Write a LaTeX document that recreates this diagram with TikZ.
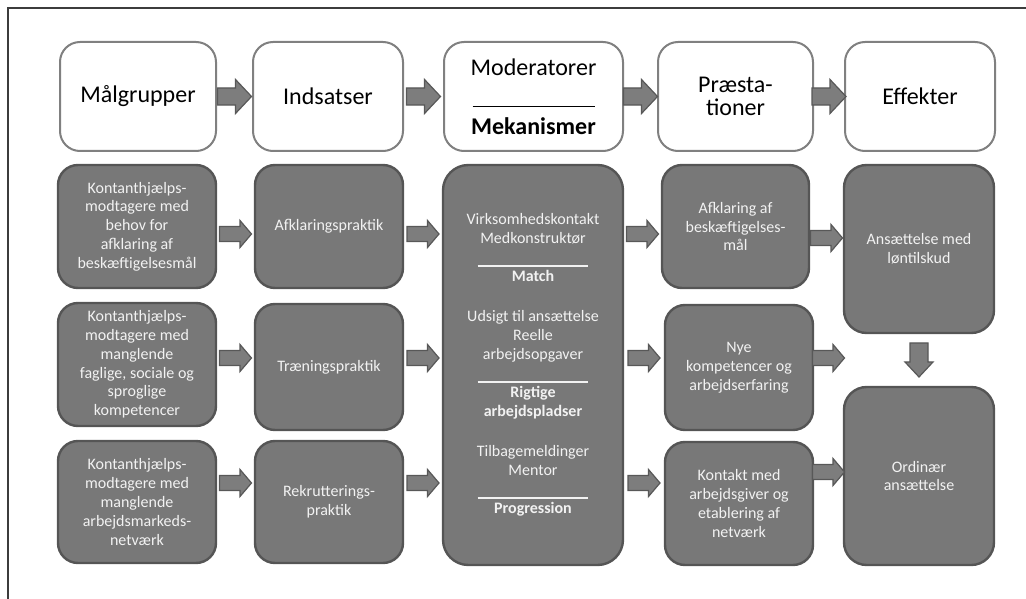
\documentclass[tikz,border=0pt]{standalone}
\usepackage{fontspec}
\setmainfont{Carlito}
\usepackage{tikz}
\usetikzlibrary{calc}

\definecolor{boxfill}{RGB}{120,120,120}
\definecolor{boxline}{RGB}{85,85,85}
\definecolor{boxtext}{RGB}{242,242,242}
\definecolor{headline}{RGB}{128,128,128}
\definecolor{arrowfill}{RGB}{125,125,125}
\definecolor{arrowline}{RGB}{88,88,88}
\definecolor{frameline}{RGB}{60,60,60}

% half shaft, half head, head length, half length, from, to
\newcommand{\blockarr}[6]{%
\coordinate (ba-m) at ($(#5)!0.5!(#6)$);
\coordinate (ba-s) at ($(ba-m)!#4!(#5)$);
\coordinate (ba-t) at ($(ba-m)!#4!(#6)$);
\coordinate (ba-h) at ($(ba-t)!#3!(ba-s)$);
\draw[blockarrow] ($(ba-s)!#1!90:(ba-t)$) -- ($(ba-h)!#1!90:(ba-t)$)
  -- ($(ba-h)!#2!90:(ba-t)$) -- (ba-t) -- ($(ba-h)!#2!-90:(ba-t)$)
  -- ($(ba-h)!#1!-90:(ba-t)$) -- ($(ba-s)!#1!-90:(ba-t)$) -- cycle;
}
\newcommand{\rowarr}[2]{\blockarr{5.6pt}{10.1pt}{8.6pt}{12pt}{#1}{#2}}
\newcommand{\headarr}[2]{\blockarr{6.4pt}{12.75pt}{12pt}{12.75pt}{#1}{#2}}

\begin{document}
\begin{tikzpicture}[%
x=0.75pt,
y=-0.75pt,
head/.style={draw=headline, line width=1.5pt, fill=white, rounded corners=15pt,
  inner sep=0pt, align=center, font=\fontsize{18pt}{22pt}\selectfont},
grey/.style={draw=boxline, line width=1.8pt, fill=boxfill, text=boxtext,
  rounded corners=15pt, inner sep=0pt, align=center,
  font=\fontsize{12pt}{14.1pt}\selectfont},
blockarrow/.style={fill=arrowfill, draw=arrowline, line width=0.9pt}
]

\useasboundingbox (0,0) rectangle (1026,599);
\draw[frameline, line width=1.1pt] (8,599) -- (8,8) -- (1026,8);

\node[head, minimum width=117pt, minimum height=81.75pt] (h1) at (138,96.5) {Målgrupper};
\node[head, minimum width=112.5pt, minimum height=81.75pt] (h2) at (328,96.5) {Indsatser};
\node[head, minimum width=134.25pt, minimum height=81.75pt] (h3) at (533.5,96.5)
  {Moderatorer\\ \rule[-1.5pt]{91.5pt}{0.9pt}\\ \textbf{Mekanismer}};
\node[head, minimum width=116.25pt, minimum height=81.75pt,
  font=\fontsize{18pt}{17.5pt}\selectfont] (h4) at (735.5,96.5) {Præsta-\\tioner};
\node[head, minimum width=112.5pt, minimum height=81.75pt] (h5) at (920,96.5) {Effekter};

\node[grey, minimum width=118.5pt, minimum height=92.25pt] (g1) at (137,226.5)
  {Kontanthjælps-\\modtagere med\\behov for\\afklaring af\\beskæftigelsesmål};
\node[grey, minimum width=118.5pt, minimum height=92.25pt] (g2) at (137,364.5)
  {Kontanthjælps-\\modtagere med\\manglende\\faglige, sociale og\\sproglige\\kompetencer};
\node[grey, minimum width=118.5pt, minimum height=91.5pt] (g3) at (137,502)
  {Kontanthjælps-\\modtagere med\\manglende\\arbejdsmarkeds-\\netværk};

\node[grey, minimum width=111pt, minimum height=92.25pt] (i1) at (329,226.5) {Afklaringspraktik};
\node[grey, minimum width=111pt, minimum height=94.5pt] (i2) at (329,367) {Træningspraktik};
\node[grey, minimum width=111pt, minimum height=91.5pt] (i3) at (329,502) {Rekrutterings-\\praktik};

\node[grey, rounded corners=19pt, minimum width=135pt, minimum height=300pt,
  font=\fontsize{12pt}{14.25pt}\selectfont] (mid) at (533,365)
  {Virksomhedskontakt\\
   Medkonstruktør\\
   \rule[-3pt]{83pt}{1pt}\\
   \textbf{Match}\\[15.75pt]
   Udsigt til ansættelse\\
   Reelle\\
   arbejdsopgaver\\
   \rule[-3pt]{83pt}{1pt}\\
   \textbf{Rigtige}\\
   \textbf{arbejdspladser}\\[15.75pt]
   Tilbagemeldinger\\
   Mentor\\
   \rule[-3pt]{83pt}{1pt}\\
   \textbf{Progression}};

\node[grey, minimum width=110.25pt, minimum height=92.25pt] (p1) at (735.5,226.5)
  {Afklaring af\\beskæftigelses-\\mål};
\node[grey, minimum width=111pt, minimum height=93.75pt] (p2) at (739,367.5)
  {Nye\\kompetencer og\\arbejdserfaring};
\node[grey, minimum width=111pt, minimum height=92.25pt] (p3) at (739,503.5)
  {Kontakt med\\arbejdsgiver og\\etablering af\\netværk};

\node[grey, rounded corners=17pt, minimum width=112.5pt, minimum height=126pt] (e1) at (919,249)
  {Ansættelse med\\løntilskud};
\node[grey, rounded corners=17pt, minimum width=112.5pt, minimum height=133.5pt] (e2) at (919,476)
  {Ordinær\\ansættelse};

\coordinate (ra) at (0,234);
\coordinate (rb) at (0,358);
\coordinate (rc) at (0,483);
\coordinate (rd) at (0,238);
\coordinate (re) at (0,472);

\headarr{h1.east}{h2.west}
\headarr{h2.east}{h3.west}
\headarr{h3.east}{h4.west}
\headarr{h4.east}{h5.west}

\rowarr{g1.east |- ra}{i1.west |- ra}
\rowarr{g2.east |- rb}{i2.west |- rb}
\rowarr{g3.east |- rc}{i3.west |- rc}
\rowarr{i1.east |- ra}{mid.west |- ra}
\rowarr{i2.east |- rb}{mid.west |- rb}
\rowarr{i3.east |- rc}{mid.west |- rc}
\rowarr{mid.east |- ra}{p1.west |- ra}
\rowarr{mid.east |- rb}{p2.west |- rb}
\rowarr{mid.east |- rc}{p3.west |- rc}
\rowarr{p1.east |- rd}{e1.west |- rd}
\rowarr{p2.east |- rb}{e1.west |- rb}
\rowarr{p3.east |- re}{e2.west |- re}
\blockarr{6.75pt}{10.5pt}{11.25pt}{12.75pt}{e1.south}{e2.north}

\end{tikzpicture}
\end{document}
